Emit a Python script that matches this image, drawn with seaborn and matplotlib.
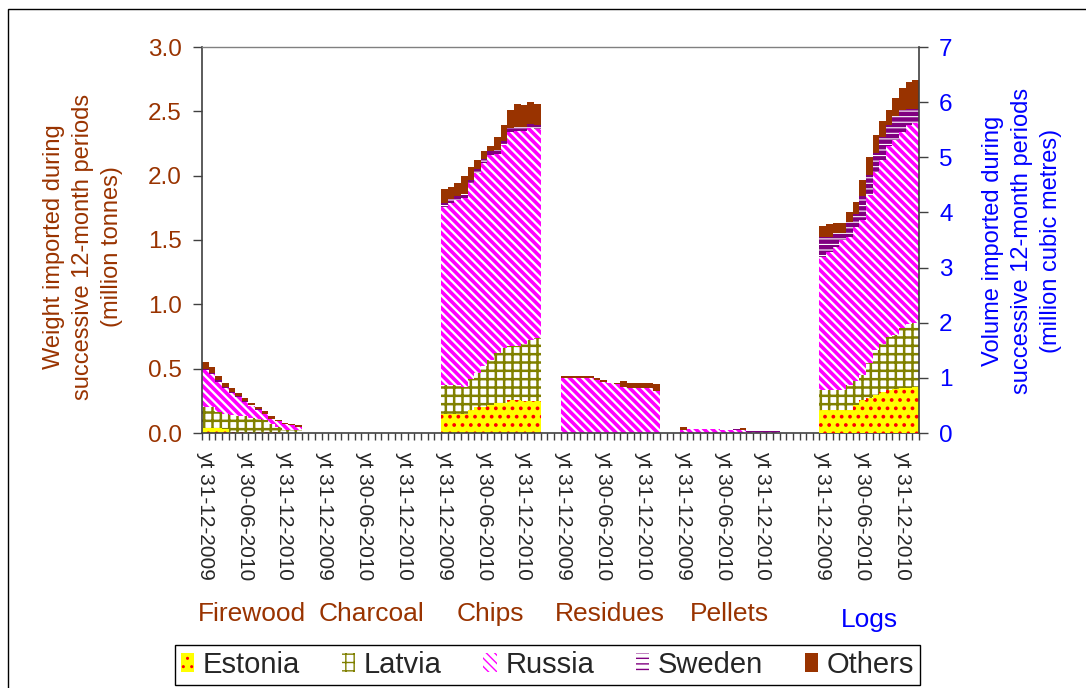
import numpy as np
import pandas as pd
import matplotlib.pyplot as plt
import seaborn as sns
from matplotlib.patches import Patch, Rectangle
from matplotlib.transforms import blended_transform_factory

countries = ['Estonia', 'Latvia', 'Russia', 'Sweden', 'Others']
products = ['Firewood', 'Charcoal', 'Chips', 'Residues', 'Pellets', 'Logs']
period_labels = ['yt 31-12-2009', 'yt 30-06-2010', 'yt 31-12-2010']

# million tonnes (Logs: million cubic metres), 15 successive 12-month periods
firewood = {
    'Estonia': [0.04, 0.04, 0.04, 0.03, 0.01, 0.01, 0.01, 0.01, 0.01, 0.01, 0.01, 0.01, 0.00, 0.00, 0.00],
    'Latvia':  [0.16, 0.16, 0.12, 0.12, 0.13, 0.12, 0.12, 0.11, 0.10, 0.09, 0.06, 0.04, 0.02, 0.02, 0.02],
    'Russia':  [0.29, 0.26, 0.24, 0.20, 0.17, 0.15, 0.11, 0.09, 0.07, 0.05, 0.04, 0.04, 0.05, 0.04, 0.03],
    'Sweden':  [0.01, 0.01, 0.01, 0.01, 0.01, 0.01, 0.01, 0.01, 0.01, 0.00, 0.00, 0.00, 0.00, 0.00, 0.00],
    'Others':  [0.05, 0.04, 0.03, 0.03, 0.03, 0.02, 0.02, 0.01, 0.01, 0.02, 0.02, 0.01, 0.01, 0.01, 0.01],
}
charcoal = {
    'Estonia': [0, 0, 0, 0, 0, 0, 0, 0, 0, 0, 0, 0, 0, 0, 0],
    'Latvia':  [0, 0, 0, 0, 0, 0, 0, 0, 0, 0, 0, 0, 0, 0, 0],
    'Russia':  [0, 0, 0, 0, 0, 0, 0, 0, 0, 0, 0, 0, 0, 0, 0],
    'Sweden':  [0, 0, 0, 0, 0, 0, 0, 0, 0, 0, 0, 0, 0, 0, 0],
    'Others':  [0, 0, 0, 0, 0, 0, 0, 0, 0, 0, 0, 0, 0, 0, 0],
}
chips = {
    'Estonia': [0.15, 0.15, 0.15, 0.15, 0.18, 0.20, 0.20, 0.22, 0.23, 0.23, 0.26, 0.26, 0.25, 0.25, 0.25],
    'Latvia':  [0.22, 0.22, 0.22, 0.21, 0.24, 0.27, 0.32, 0.35, 0.39, 0.43, 0.42, 0.42, 0.44, 0.47, 0.49],
    'Russia':  [1.39, 1.42, 1.44, 1.47, 1.52, 1.55, 1.58, 1.59, 1.55, 1.58, 1.66, 1.67, 1.66, 1.65, 1.62],
    'Sweden':  [0.03, 0.03, 0.03, 0.03, 0.03, 0.03, 0.03, 0.03, 0.03, 0.03, 0.03, 0.03, 0.03, 0.03, 0.03],
    'Others':  [0.11, 0.09, 0.10, 0.14, 0.10, 0.07, 0.06, 0.04, 0.10, 0.12, 0.14, 0.18, 0.17, 0.17, 0.17],
}
residues = {
    'Estonia': [0, 0, 0, 0, 0, 0, 0, 0, 0, 0, 0, 0, 0, 0, 0],
    'Latvia':  [0, 0, 0, 0, 0, 0, 0, 0, 0, 0, 0, 0, 0, 0, 0],
    'Russia':  [0.43, 0.43, 0.43, 0.43, 0.43, 0.41, 0.40, 0.39, 0.38, 0.36, 0.35, 0.35, 0.35, 0.35, 0.33],
    'Sweden':  [0, 0, 0, 0, 0, 0, 0, 0, 0, 0, 0, 0, 0, 0, 0],
    'Others':  [0.01, 0.01, 0.01, 0.01, 0.01, 0.015, 0.015, 0.0, 0.01, 0.045, 0.04, 0.04, 0.04, 0.04, 0.05],
}
pellets = {
    'Estonia': [0, 0, 0, 0, 0, 0, 0, 0, 0, 0, 0, 0, 0, 0, 0],
    'Latvia':  [0, 0, 0, 0, 0, 0, 0, 0, 0, 0, 0, 0, 0, 0, 0],
    'Russia':  [0.02, 0.03, 0.03, 0.03, 0.03, 0.03, 0.025, 0.025, 0.025, 0.02, 0.01, 0.01, 0.01, 0.01, 0.01],
    'Sweden':  [0, 0, 0, 0, 0, 0, 0, 0, 0.005, 0.005, 0.005, 0.005, 0.005, 0.005, 0.005],
    'Others':  [0.03, 0, 0, 0, 0, 0, 0, 0, 0, 0.01, 0, 0, 0, 0, 0],
}
logs = {
    'Estonia': [0.42, 0.42, 0.42, 0.42, 0.42, 0.51, 0.60, 0.63, 0.69, 0.75, 0.78, 0.80, 0.81, 0.82, 0.83],
    'Latvia':  [0.36, 0.36, 0.36, 0.36, 0.45, 0.44, 0.45, 0.64, 0.82, 0.87, 0.97, 0.97, 1.09, 1.15, 1.17],
    'Russia':  [2.42, 2.51, 2.60, 2.72, 2.69, 2.79, 2.81, 3.05, 3.23, 3.33, 3.45, 3.54, 3.56, 3.62, 3.62],
    'Sweden':  [0.36, 0.27, 0.25, 0.13, 0.27, 0.24, 0.43, 0.36, 0.33, 0.42, 0.39, 0.43, 0.40, 0.28, 0.25],
    'Others':  [0.19, 0.23, 0.17, 0.17, 0.17, 0.21, 0.30, 0.32, 0.33, 0.29, 0.26, 0.33, 0.39, 0.50, 0.53],
}

# layout: first category slot of each product block, label slots inside a block
group_start = [0, 18, 36, 54, 72, 93]
label_offset = [0, 6, 12]

face = {'Estonia': '#FFFF00', 'Latvia': 'white', 'Russia': 'white', 'Sweden': 'white', 'Others': '#993300'}
hatch_col = {'Estonia': '#FF0000', 'Latvia': '#808000', 'Russia': '#FF00FF', 'Sweden': '#800080', 'Others': '#993300'}
hatches = {'Estonia': '..', 'Latvia': '++', 'Russia': '\\\\\\\\', 'Sweden': '---', 'Others': ''}
hatch_lw = {'Estonia': 1.5, 'Latvia': 1.8, 'Russia': 2.6, 'Sweden': 3.2, 'Others': 1.0}

BROWN = '#993300'
BLUE = '#0000FF'
AXC = '#404040'

sns.set_theme(style='white')
plt.rcParams['font.family'] = ['Liberation Sans', 'DejaVu Sans']

fig = plt.figure(figsize=(10.86, 6.88), dpi=100)
ax = fig.add_axes([202 / 1086, 1 - 433 / 688, 717 / 1086, 386 / 688])
ax2 = ax.twinx()


def to_table(groups, starts):
    frames = []
    for g, s in zip(groups, starts):
        df = pd.DataFrame(g)
        df['slot'] = s + np.arange(len(df))
        frames.append(df)
    return pd.concat(frames, ignore_index=True)


def stack(axis, table):
    base = np.zeros(len(table))
    for c in countries:
        with plt.rc_context({'hatch.linewidth': hatch_lw[c]}):
            sns.barplot(data=table, x='slot', y=c, native_scale=True, width=1.0,
                        color=face[c], saturation=1, errorbar=None, ax=axis,
                        edgecolor=hatch_col[c], hatch=hatches[c], linewidth=0,
                        bottom=base)
        for p in axis.containers[-1]:
            if hasattr(p, 'set_hatch_linewidth'):
                p.set_hatch_linewidth(hatch_lw[c])
        base = base + table[c].to_numpy()


left_table = to_table([firewood, charcoal, chips, residues, pellets], group_start[:5])
right_table = to_table([logs], group_start[5:])
stack(ax, left_table)
stack(ax2, right_table)

ax.set_xlim(-0.5, 107.5)
ax.set_ylim(0, 3)
ax2.set_ylim(0, 7)
ax.set_xlabel('')
ax.set_ylabel('')
ax2.set_ylabel('')

yt = np.arange(0, 3.01, 0.5)
ax.set_yticks(yt)
ax.set_yticklabels([f'{v:.1f}' for v in yt])
ax2.set_yticks(range(8))

tick_pos = [s + o for s in group_start for o in label_offset]
ax.set_xticks(tick_pos)
ax.set_xticklabels(period_labels * len(group_start), rotation=-90, fontsize=15)
ax.set_xticks(np.arange(-0.5, 108, 1), minor=True)
ax.tick_params(axis='x', which='major', bottom=True, length=0, pad=13)
ax.tick_params(axis='x', which='minor', bottom=True, length=5, width=1, color=AXC)
ax.tick_params(axis='y', left=True, length=6.5, width=1, color=AXC,
               labelcolor=BROWN, labelsize=17.5, pad=8)
ax2.tick_params(axis='y', right=True, length=6.5, width=1, color=AXC,
                labelcolor=BLUE, labelsize=17.5, pad=8)

for side in ['left', 'bottom']:
    ax.spines[side].set_color(AXC)
    ax.spines[side].set_linewidth(1.2)
ax.spines['top'].set_color('#808080')
ax.spines['top'].set_linewidth(1)
ax.spines['right'].set_visible(False)
for side in ['left', 'bottom', 'top']:
    ax2.spines[side].set_visible(False)
ax2.spines['right'].set_color(AXC)
ax2.spines['right'].set_linewidth(1.2)

# product names under the period labels
trans = blended_transform_factory(ax.transData, fig.transFigure)
for name, s in zip(products, group_start):
    col = BLUE if name == 'Logs' else BROWN
    ypix = 627 if name == 'Logs' else 621
    ax.text(s + 7, 1 - ypix / 688, name, transform=trans, ha='center',
            va='baseline', fontsize=19, color=col)

fig.text(83 / 1086, 1 - 247 / 688,
         'Weight imported during\nsuccessive 12-month periods\n(million tonnes)',
         rotation=90, ha='center', va='center', multialignment='center',
         fontsize=17, color=BROWN, linespacing=1.4)
fig.text(1022 / 1086, 1 - 241 / 688,
         'Volume imported during\nsuccessive 12-month periods\n(million cubic metres)',
         rotation=90, ha='center', va='center', multialignment='center',
         fontsize=17, color=BLUE, linespacing=1.4)

handles = []
for c in countries:
    h = Patch(facecolor=face[c], edgecolor=hatch_col[c], hatch=hatches[c], linewidth=0, label=c)
    if hasattr(h, 'set_hatch_linewidth'):
        h.set_hatch_linewidth(hatch_lw[c])
    handles.append(h)
leg = fig.legend(handles=handles, loc='upper left',
                 bbox_to_anchor=(175 / 1086, 0, 745 / 1086, 1 - 645 / 688),
                 mode='expand', ncol=5, fontsize=21, frameon=True, fancybox=False,
                 edgecolor='black', framealpha=1, handlelength=0.45, handleheight=0.62,
                 handletextpad=0.3, borderpad=0.2, borderaxespad=0)
leg.get_frame().set_linewidth(1)

fig.patches.append(Rectangle((8 / 1086, -0.05), 1.0, 1.05 - 9 / 688, fill=False,
                             edgecolor='black', linewidth=1, transform=fig.transFigure))

fig.savefig('out.png', dpi=100)
